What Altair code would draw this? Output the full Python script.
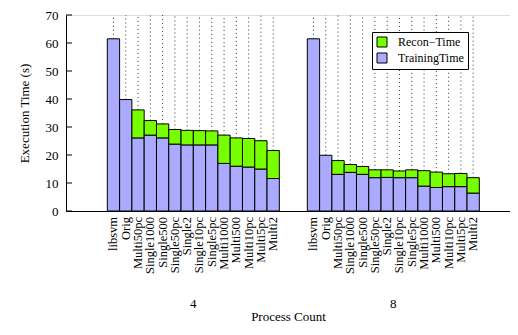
import altair as alt
import pandas as pd

names = ["libsvm", "Orig", "Multi50pc", "Single1000", "Single500", "Single50pc", "Single2",
         "Single10pc", "Single5pc", "Multi1000", "Multi500", "Multi10pc", "Multi5pc", "Multi2"]
groups = ["4", "8"]
series = ["Recon\u2212Time", "TrainingTime"]
colors = ["#77ff00", "#aaaaff"]

training_4 = [61.5, 39.8, 26.1, 27.1, 26.1, 23.9, 23.6, 23.6, 23.6, 17.0, 16.0, 15.7, 15.0, 11.6]
recon_4 = [0.0, 0.0, 10.0, 5.2, 5.0, 5.2, 5.2, 5.1, 5.0, 10.1, 10.1, 10.2, 10.1, 10.0]
training_8 = [61.5, 19.9, 13.1, 13.8, 13.1, 11.9, 12.0, 11.9, 11.9, 8.9, 8.4, 8.7, 8.7, 6.4]
recon_8 = [0.0, 0.0, 4.9, 2.8, 2.8, 2.8, 2.7, 2.4, 2.8, 5.5, 5.5, 4.6, 4.7, 5.5]

yticks = [0, 10, 20, 30, 40, 50, 60, 70]

FONT = "Liberation Serif"
W, H = 444, 196

rows, tots = [], []
for g, tr, rc in [("4", training_4, recon_4), ("8", training_8, recon_8)]:
    for n, t, r in zip(names, tr, rc):
        rows.append({"group": g, "name": n, "series": series[1], "lo": 0.0, "hi": t})
        if r > 0:
            rows.append({"group": g, "name": n, "series": series[0], "lo": t, "hi": t + r})
        tots.append({"group": g, "name": n, "total": t + r})
bars_df = pd.DataFrame(rows)
tot_df = pd.DataFrame(tots)
tick_df = pd.DataFrame({"v": yticks})

x_axis = alt.Axis(title="Process Count", labelAngle=0, ticks=False, labelPadding=86,
                  titlePadding=0, grid=False)
x_enc = alt.X("group:N",
              scale=alt.Scale(domain=groups, paddingInner=0.14, paddingOuter=0.18, align=0.574),
              axis=x_axis)
xo_scale = alt.Scale(domain=names, paddingInner=0, paddingOuter=0)
y_scale = alt.Scale(domain=[0, 70], nice=False, zero=True)
y_axis = alt.Axis(values=yticks, ticks=False, labelPadding=8, title="Execution Time (s)",
                  titlePadding=14, grid=False)

rules = alt.Chart(tot_df).mark_rule(strokeDash=[1, 3], color="#333333", strokeWidth=1).encode(
    x=x_enc,
    xOffset=alt.XOffset("name:N", scale=xo_scale, bandPosition=0.5),
    y=alt.Y("total:Q", scale=y_scale, axis=y_axis),
    y2=alt.value(0),
)

bars = alt.Chart(bars_df).mark_bar(stroke="black", strokeWidth=1, opacity=1).encode(
    x=x_enc,
    xOffset=alt.XOffset("name:N", scale=xo_scale),
    y=alt.Y("hi:Q", scale=y_scale, axis=y_axis),
    y2="lo:Q",
    color=alt.Color("series:N", scale=alt.Scale(domain=series, range=colors),
                    legend=alt.Legend(orient="none", legendX=306, legendY=17, title=None,
                                      fillColor="white", strokeColor="black", padding=4,
                                      symbolType="square", symbolSize=100,
                                      symbolStrokeColor="black", symbolStrokeWidth=1,
                                      symbolOpacity=1, labelOffset=10, rowPadding=2)),
)

labels = alt.Chart(tot_df).mark_text(angle=270, align="right", baseline="middle", font=FONT,
                                     fontSize=12.5, color="black").encode(
    x=x_enc,
    xOffset=alt.XOffset("name:N", scale=xo_scale, bandPosition=0.5),
    y=alt.value(H + 6), text="name:N")

ticks = alt.Chart(tick_df).mark_rule(color="black", strokeWidth=1).encode(
    y=alt.Y("v:Q", scale=y_scale, axis=y_axis), x=alt.value(0), x2=alt.value(6))

chart = alt.layer(rules, bars, labels, ticks).properties(
    width=W, height=H,
    autosize=alt.AutoSizeParams(type="none"),
    padding={"left": 58, "top": 7, "right": 0, "bottom": 112},
).configure_view(stroke=None).configure(font=FONT).configure_axis(
    labelFont=FONT, titleFont=FONT, labelFontSize=13, titleFontSize=13,
    titleFontWeight="normal", labelColor="black", titleColor="black",
    domainColor="black", labelOverlap=False,
).configure_legend(labelFont=FONT, labelFontSize=12, labelColor="black")

chart.save("out.html", embed_options={"renderer": "svg", "actions": False})
